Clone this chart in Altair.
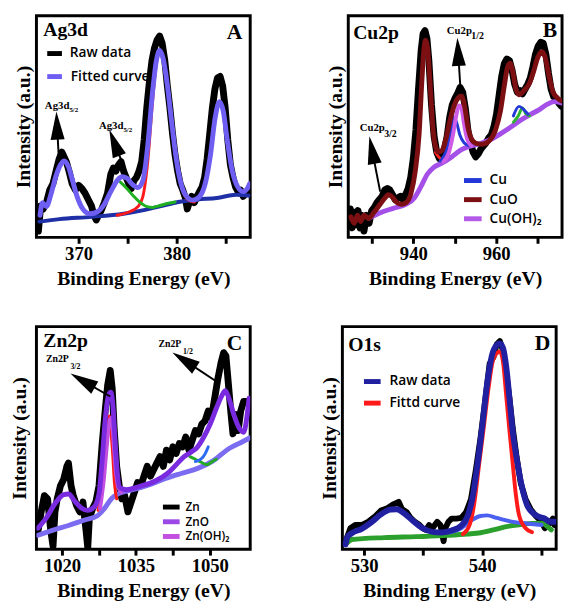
import altair as alt
import pandas as pd

SERIF = "Liberation Serif"
SANS = "Open Sans"
ARROW = "M0,-1L0.5,1L-0.5,1Z"

# ---------------- Panel A : Ag3d ----------------
A_RAW = [(365.90,20),(366.13,100),(366.39,90),(366.72,110),(367.05,150),(367.38,170),(367.70,210),(368.03,250),
         (368.30,270),(368.52,255),(368.75,240),(369.02,210),(369.34,170),(369.67,150),(370.00,165),(370.33,155),
         (370.66,140),(370.98,120),(371.31,100),(371.57,70),(371.80,55),(372.03,70),(372.30,85),(372.62,110),
         (372.95,140),(373.28,200),(373.54,220),(373.80,210),(374.07,230),(374.33,240),(374.59,210),(374.85,190),
         (375.11,170),(375.38,155),(375.64,180),(375.90,190),(376.16,210),(376.43,240),(376.69,310),(376.95,410),
         (377.21,490),(377.48,560),(377.74,600),(378.00,625),(378.26,638),(378.52,615),(378.79,560),(379.05,480),
         (379.31,410),(379.57,330),(379.84,260),(380.10,210),(380.36,170),(380.62,150),(380.89,125),(381.08,90),
         (381.28,110),(381.54,130),(381.80,110),(382.07,130),(382.33,145),(382.59,160),(382.85,190),(383.11,250),
         (383.38,330),(383.64,410),(383.90,470),(384.16,505),(384.43,510),(384.69,480),(384.95,410),(385.21,310),
         (385.48,230),(385.74,190),(386.00,160),(386.26,145),(386.52,150),(386.79,130),(387.05,140),(387.31,150)]
A_FIT = [(366.07,70),(366.30,110),(366.72,98),(367.21,140),(367.70,195),(368.20,232),(368.52,242),(368.95,225),
         (369.34,185),(369.84,130),(370.39,92),(371.15,75),(371.97,82),(372.62,105),(373.28,145),(373.93,180),
         (374.43,192),(374.92,188),(375.41,170),(376.07,158),(376.56,180),(377.05,290),(377.54,460),(377.93,560),
         (378.26,592),(378.59,570),(379.02,490),(379.51,360),(380.00,240),(380.49,165),(381.15,125),(381.64,118),
         (382.30,128),(382.95,175),(383.44,260),(383.93,380),(384.36,430),(384.75,400),(385.15,310),(385.67,210),
         (386.23,160),(386.79,145),(387.21,155),(387.44,170)]
A_BASE = [(366.00,50),(368.03,58),(371.31,65),(374.59,75),(376.89,88),(378.52,100),(380.16,112),(382.13,120),
          (384.10,125),(386.07,135),(387.44,132)]
A_RED = [(373.93,70),(375.25,82),(376.07,98),(376.56,130),(377.05,240),(377.54,430),(377.93,550),(378.26,585),
         (378.59,565),(379.02,485),(379.51,355),(380.00,240),(380.49,160),(381.15,120),(381.80,112)]
A_GREEN = [(374.26,175),(374.92,155),(375.57,132),(376.23,112),(376.89,98),(377.54,95),(378.20,100),(379.18,108),
           (379.84,112)]
A_TEXT = [(366.56,416,"Ag3d","5/2"),(372.07,353,"Ag3d","5/2")]
A_ARROWS = [(367.97,260,367.80,354,357.5),(374.62,224,373.64,300,339)]

# ---------------- Panel B : Cu2p ----------------
B_RAW = [(924.78,90),(925.25,30),(925.73,80),(926.20,40),(926.67,85),(927.14,30),(927.61,70),(928.08,20),
         (928.71,70),(929.33,45),(929.96,85),(930.59,95),(931.22,110),(931.84,120),(932.47,130),(933.10,150),
         (933.73,155),(934.35,150),(934.98,135),(935.61,120),(936.24,125),(936.86,130),(937.49,120),(938.12,135),
         (938.75,155),(939.37,190),(940.00,250),(940.63,340),(941.25,470),(941.88,590),(942.35,645),(942.82,655),
         (943.29,630),(943.76,560),(944.39,420),(945.02,320),(945.65,270),(946.27,250),(946.90,260),(947.53,280),
         (948.16,320),(948.78,380),(949.41,420),(950.04,440),(950.67,455),(951.29,475),(951.92,460),(952.55,410),
         (953.18,340),(953.80,300),(954.43,270),(955.06,255),(955.69,265),(956.31,280),(956.94,290),(957.57,300),
         (958.20,315),(958.82,325),(959.45,350),(960.08,390),(960.71,450),(961.33,510),(961.96,550),(962.59,565),
         (963.22,560),(963.84,530),(964.47,485),(965.10,460),(965.73,465),(966.35,455),(966.98,470),(967.61,485),
         (968.24,505),(968.86,540),(969.49,580),(970.12,605),(970.75,618),(971.37,615),(972.00,580),(972.63,520),
         (973.25,470),(973.88,445),(974.51,440),(975.14,425),(975.76,415)]
B_FIT = [(924.94,65),(925.73,45),(926.51,70),(927.29,50),(928.08,70),(929.25,60),(930.43,78),(932.00,105),
         (933.18,125),(933.96,135),(934.75,130),(935.92,112),(937.10,105),(938.27,110),(939.45,140),(940.47,210),
         (941.41,330),(942.04,490),(942.59,600),(942.98,625),(943.45,600),(944.08,480),(944.71,350),(945.33,290),
         (946.12,270),(946.90,275),(947.84,310),(948.86,370),(949.88,418),(950.82,442),(951.61,448),(952.39,415),
         (953.18,350),(954.12,310),(955.14,298),(956.71,295),(958.27,305),(959.84,340),(961.02,400),(961.96,480),
         (962.75,540),(963.37,552),(964.00,525),(964.78,470),(965.57,452),(966.67,465),(967.92,485),(969.02,525),
         (970.04,570),(971.06,588),(971.84,570),(972.78,510),(973.73,460),(974.75,442),(975.76,432)]
B_BG = [(929.25,60),(932.00,78),(935.14,92),(938.27,105),(940.24,125),(941.80,160),(943.37,200),(944.94,222),
        (946.90,235),(949.25,255),(951.61,278),(953.96,290),(956.31,298),(958.67,310),(961.02,328),(963.37,348),
        (965.73,370),(968.08,388),(970.43,405),(972.39,422),(973.96,430),(975.76,426)]
B_CU = [(946.51,242),(948.08,280),(949.10,340),(949.80,380),(950.43,365),(951.22,325),(952.24,300),(953.57,290)]
B_CU2 = [(964.16,385),(965.49,415),(966.67,405),(967.69,390)]
B_OH = [(947.29,240),(948.63,270),(949.65,330),(950.43,390),(951.06,418),(951.61,410),(952.24,360),(953.02,310),
        (953.96,290)]
B_GREEN = [(964.16,365),(965.33,385),(966.35,410),(967.14,392),(968.08,385)]
B_RED = [(945.33,270),(946.12,255),(947.06,245)]
B_TEXT = [(927.06,345,"Cu2p","3/2"),(948.08,655,"Cu2p","1/2")]
B_ARROWS = [(932.00,145,930.04,277,349),(951.45,455,950.82,588,357)]

# ---------------- Panel C : Zn2p ----------------
C_RAW = [(1015.11,55),(1015.76,115),(1016.41,165),(1017.06,155),(1017.72,55),(1018.17,10),(1018.56,115),
         (1019.02,155),(1019.67,195),(1020.33,215),(1020.98,255),(1021.30,265),(1021.83,195),(1022.28,165),
         (1022.94,135),(1023.59,115),(1024.24,145),(1024.89,55),(1025.22,5),(1025.54,95),(1026.20,125),
         (1026.85,145),(1027.50,195),(1028.15,325),(1028.81,435),(1029.26,505),(1029.78,550),(1030.18,495),
         (1030.57,375),(1031.09,255),(1031.61,195),(1032.13,155),(1032.72,165),(1033.37,115),(1034.02,145),
         (1034.68,175),(1035.33,205),(1035.98,195),(1036.63,225),(1037.29,255),(1037.94,225),(1038.59,245),
         (1039.24,265),(1039.90,285),(1040.55,255),(1041.20,305),(1041.85,275),(1042.50,315),(1043.16,295),
         (1043.81,325),(1044.46,315),(1045.11,345),(1045.77,305),(1046.42,335),(1047.07,365),(1047.72,355),
         (1048.38,385),(1049.03,395),(1049.68,425),(1050.33,405),(1050.99,465),(1051.64,525),(1052.29,575),
         (1052.81,605),(1053.27,595),(1053.79,505),(1054.25,425),(1054.70,355),(1055.23,415),(1055.75,365),
         (1056.27,425),(1056.86,455),(1057.51,455)]
C_FIT = [(1015.11,65),(1016.74,95),(1018.70,143),(1020.33,168),(1021.30,170),(1022.61,147),(1023.91,127),
         (1025.22,120),(1026.52,130),(1027.50,170),(1028.15,275),(1028.81,405),(1029.46,475),(1029.92,483),
         (1030.31,445),(1030.76,335),(1031.22,235),(1031.74,190),(1033.05,183),(1035.66,193),(1038.92,210),
         (1041.53,235),(1043.48,265),(1044.79,285),(1046.09,298),(1047.40,313),(1048.70,343),(1050.01,383),
         (1051.31,433),(1052.29,468),(1053.14,488),(1053.92,463),(1054.90,413),(1055.88,375),(1056.86,360),
         (1057.51,405),(1057.97,465)]
C_BASE = [(1015.11,43),(1018.04,58),(1021.30,73),(1024.57,90),(1027.18,103),(1028.48,123),(1030.11,157),
          (1031.74,173),(1034.35,183),(1037.61,198),(1040.87,217),(1044.14,233),(1047.40,248),(1050.66,272),
          (1053.92,310),(1056.53,330),(1058.16,343)]
C_RED = [(1027.31,120),(1028.15,195),(1028.81,285),(1029.26,365),(1029.59,410),(1029.92,365),(1030.31,285),
         (1030.63,205),(1031.09,155)]
C_OH = [(1027.70,125),(1028.48,215),(1029.13,325),(1029.65,395),(1030.05,405),(1030.44,335),(1030.89,245),
        (1031.41,190),(1032.07,175)]
C_GREEN = [(1045.96,285),(1047.07,277),(1048.38,267),(1049.35,260),(1050.53,270),(1051.31,277)]
C_BLUE = [(1047.07,270),(1048.18,277),(1049.03,293),(1049.68,315)]
C_TEXT = [(1016.72,584,"Zn2P","3/2"),(1039.57,630,"Zn2P","1/2")]
C_ARROWS = [(1029.78,470,1024.17,519,300),(1051.96,510,1044.79,582,303)]

# ---------------- Panel D : O1s ----------------
D_RAW = [(528.42,25),(528.83,65),(529.24,75),(529.78,75),(530.33,85),(530.87,100),(531.42,120),(531.96,127),
         (532.51,140),(532.92,147),(533.19,125),(533.60,115),(533.87,100),(534.28,85),(534.69,75),(534.96,65),
         (535.23,60),(535.50,75),(535.78,65),(536.19,85),(536.46,75),(536.73,25),(536.87,65),(537.14,85),
         (537.41,95),(537.82,95),(538.23,97),(538.64,115),(539.05,155),(539.46,245),(539.86,345),(540.27,465),
         (540.63,575),(540.95,595),(541.23,635),(541.50,645),(541.77,615),(542.04,545),(542.32,465),(542.59,375),
         (542.92,285),(543.27,205),(543.68,155),(544.09,125),(544.50,105),(545.04,85),(545.31,65),(545.59,75),
         (546.00,95),(546.13,75)]
D_FIT = [(528.42,15),(528.56,37),(528.96,50),(529.78,63),(530.60,83),(531.42,108),(532.23,123),(532.78,124),
         (533.32,113),(534.14,88),(534.96,65),(535.78,54),(536.59,52),(537.41,58),(538.23,73),(538.77,103),
         (539.18,160),(539.59,260),(540.00,380),(540.41,510),(540.82,600),(541.23,633),(541.50,638),(541.77,623),
         (542.04,565),(542.32,465),(542.59,365),(543.00,265),(543.41,187),(543.81,137),(544.22,115),(544.77,101),
         (545.31,95),(545.72,85),(546.13,85)]
D_RED = [(538.37,47),(538.91,73),(539.32,140),(539.73,260),(540.14,380),(540.54,500),(540.95,590),(541.50,613),
         (541.77,580),(542.04,475),(542.32,365),(542.59,265),(542.86,167),(543.13,105),(543.68,65),(544.22,53)]
D_COMP = [(537.14,52),(538.23,65),(539.05,89),(539.86,103),(540.41,105),(541.23,97),(542.59,85),(543.95,79),
          (545.04,75)]
D_BASE = [(528.56,20),(528.96,30),(531.69,36),(534.41,39),(537.14,43),(538.77,47),(539.86,51),(540.95,60),
          (542.04,70),(543.13,76),(544.22,80),(545.04,81),(545.45,73),(545.86,60)]

W = 218
H1, H2 = 226, 227


def sdf(name, pts):
    return pd.DataFrame({"E": [p[0] for p in pts], "I": [p[1] for p in pts], "S": name})


def panel(cfg, h):
    xs = alt.Scale(domain=cfg["xdom"], nice=False, zero=False)
    ys = alt.Scale(domain=[0, cfg["ytop"]], nice=False, zero=False)
    xa = alt.Axis(title="Binding Energy (eV)", values=cfg["ticks"], format="d",
                  labelExpr=cfg["lexpr"], labelFlush=False, domain=False, grid=False,
                  labelFont=SERIF, labelFontSize=19, labelFontWeight="bold", labelColor="black",
                  titleFont=SERIF, titleFontSize=20, titleFontWeight="bold", titleColor="black",
                  tickColor="black", tickWidth=3, tickSize=6, labelPadding=2, titlePadding=5)
    ya = alt.Axis(title="Intensity (a.u.)", labels=False, ticks=False, domain=False, grid=False,
                  titleFont=SERIF, titleFontSize=20, titleFontWeight="bold", titleColor="black",
                  titlePadding=cfg["ytp"])
    names = [s[0] for s in cfg["series"]]
    cols = [s[2] for s in cfg["series"]]
    color_scale = alt.Scale(domain=names, range=cols)
    layers = []
    for name, pts, col, sw, interp in cfg["series"]:
        layers.append(
            alt.Chart(sdf(name, pts)).mark_line(
                strokeWidth=sw, interpolate=interp, clip=True,
                strokeCap="round", strokeJoin="round").encode(
                x=alt.X("E:Q", scale=xs, axis=xa),
                y=alt.Y("I:Q", scale=ys, axis=ya),
                color=alt.Color("S:N", scale=color_scale, legend=None),
            )
        )
    if cfg.get("arrows"):
        arr = pd.DataFrame(cfg["arrows"], columns=["E", "I", "E2", "I2", "ang"])
        layers.append(alt.Chart(arr).mark_rule(strokeWidth=2, color="black").encode(
            x=alt.X("E:Q", scale=xs, axis=xa), y=alt.Y("I:Q", scale=ys, axis=ya),
            x2="E2:Q", y2="I2:Q"))
        layers.append(alt.Chart(arr).mark_point(
            shape=ARROW, filled=True, size=820, color="black", opacity=1).encode(
            x=alt.X("E2:Q", scale=xs, axis=xa), y=alt.Y("I2:Q", scale=ys, axis=ya),
            angle=alt.Angle("ang:Q", scale=None)))
    if cfg.get("text"):
        tx = pd.DataFrame(cfg["text"], columns=["E", "I", "main", "sub"])
        layers.append(alt.Chart(tx).mark_text(
            align="left", baseline="middle", font=SERIF, fontWeight="bold",
            fontSize=cfg["mainsize"], color="black").encode(
            x=alt.X("E:Q", scale=xs, axis=xa), y=alt.Y("I:Q", scale=ys, axis=ya),
            text="main:N"))
        layers.append(alt.Chart(tx).mark_text(
            align="left", baseline="middle", font=SERIF, fontWeight="bold",
            fontSize=cfg["subsize"], dx=cfg["subdx"], dy=cfg["subdy"], color="black").encode(
            x=alt.X("E:Q", scale=xs, axis=xa), y=alt.Y("I:Q", scale=ys, axis=ya),
            text="sub:N"))
    # legend entries: label, colour, line start, line end, row y, text x
    for lab, col, x0, x1, yy, xt in cfg["legend"]:
        d = pd.DataFrame({"t": [lab]})
        layers.append(alt.Chart(d).mark_rule(color=col, strokeWidth=5).encode(
            x=alt.value(x0), x2=alt.value(x1), y=alt.value(yy)))
        layers.append(alt.Chart(d).mark_text(
            align="left", baseline="middle", font=SANS, fontSize=cfg["lfs"], fontWeight=600,
            color="black").encode(x=alt.value(xt), y=alt.value(yy), text="t:N"))
    tg = cfg["tag"]
    layers.append(alt.Chart(pd.DataFrame({"t": [tg[0]]})).mark_text(
        align="left", baseline="middle", font=SERIF, fontWeight="bold", fontSize=20,
        color="black").encode(x=alt.value(tg[1]), y=alt.value(tg[2]), text="t:N"))
    lt = cfg["letter"]
    layers.append(alt.Chart(pd.DataFrame({"t": [lt[0]]})).mark_text(
        align="right", baseline="middle", font=SERIF, fontWeight="bold", fontSize=22,
        color="black").encode(x=alt.value(W - lt[1]), y=alt.value(lt[2]), text="t:N"))
    return alt.layer(*layers).properties(width=W, height=h)


PA = dict(
    xdom=[365.7, 387.5], ytop=702, ticks=[370, 375, 380, 385],
    lexpr="datum.value % 10 == 0 ? datum.label : ''", ytp=3,
    series=[("raw", A_RAW, "#000000", 7, "linear"),
            ("base", A_BASE, "#1f2fa5", 4, "monotone"),
            ("red", A_RED, "#ff1a1a", 3, "monotone"),
            ("green", A_GREEN, "#1eb01e", 3, "monotone"),
            ("fit", A_FIT, "#6e5ef2", 5, "monotone")],
    legend=[("Raw data", "#000000", 11, 26, 38.5, 34),
            ("Fitted curve", "#6e5ef2", 11, 26, 62, 35)],
    lfs=14, arrows=A_ARROWS, text=A_TEXT, mainsize=11, subsize=7, subdx=25, subdy=4,
    tag=("Ag3d", 7, 15), letter=("A", 8, 17),
)
PB = dict(
    xdom=[924.3, 975.9], ytop=702, ticks=[930, 940, 950, 960, 970],
    lexpr="datum.value % 20 == 0 ? datum.label : ''", ytp=3,
    series=[("raw", B_RAW, "#000000", 7, "linear"),
            ("bg", B_BG, "#a450e8", 5, "monotone"),
            ("red", B_RED, "#ff2020", 3, "monotone"),
            ("green", B_GREEN, "#2db52d", 3, "monotone"),
            ("cu", B_CU, "#2438d8", 3, "monotone"),
            ("cu2", B_CU2, "#2438d8", 3, "monotone"),
            ("oh", B_OH, "#cf5ce6", 4, "monotone"),
            ("fit", B_FIT, "#7b0f12", 5, "monotone")],
    legend=[("Cu", "#2438d8", 118, 136, 168, 144),
            ("CuO", "#7b0f12", 118, 136, 187.5, 144),
            ("Cu(OH)₂", "#b45ae8", 118, 136, 207, 144)],
    lfs=14, arrows=B_ARROWS, text=B_TEXT, mainsize=11, subsize=10, subdx=25, subdy=6,
    tag=("Cu2p", 5, 18), letter=("B", 5, 15),
)
PC = dict(
    xdom=[1014.8, 1058.2], ytop=685, ticks=[1020, 1027.5, 1035, 1042.5, 1050],
    lexpr="datum.value % 15 == 0 ? datum.label : ''", ytp=7,
    series=[("raw", C_RAW, "#000000", 7, "linear"),
            ("base", C_BASE, "#7c6cf2", 5, "monotone"),
            ("green", C_GREEN, "#22aa22", 3, "monotone"),
            ("blue", C_BLUE, "#2d6cf0", 3, "monotone"),
            ("red", C_RED, "#ff1a1a", 3, "monotone"),
            ("oh", C_OH, "#c24fe0", 4, "monotone"),
            ("fit", C_FIT, "#7a2be0", 5, "monotone")],
    legend=[("Zn", "#000000", 129, 146, 184, 152),
            ("ZnO", "#9b48e6", 129, 146, 199, 152),
            ("Zn(OH)₂", "#c24fe0", 129, 146, 214, 152)],
    lfs=12, arrows=C_ARROWS, text=C_TEXT, mainsize=10, subsize=8, subdx=25, subdy=8,
    tag=("Zn2p", 7, 15), letter=("C", 8, 17),
)
PD = dict(
    xdom=[528.15, 546.27], ytop=690, ticks=[530, 535, 540, 545],
    lexpr="datum.value % 10 == 0 ? datum.label : ''", ytp=3,
    series=[("raw", D_RAW, "#000000", 6, "linear"),
            ("base", D_BASE, "#2ca02c", 5, "monotone"),
            ("comp", D_COMP, "#4b5ff0", 4, "monotone"),
            ("red", D_RED, "#ff1a1a", 4, "monotone"),
            ("fit", D_FIT, "#2020a0", 6, "monotone")],
    legend=[("Raw data", "#2020a0", 22, 39, 56, 48),
            ("Fittd curve", "#ff1a1a", 22, 39, 78, 48)],
    lfs=14,
    tag=("O1s", 6, 19), letter=("D", 6, 17),
)

row1 = alt.hconcat(panel(PA, H1), panel(PB, H1), spacing=73).resolve_scale(
    color="independent", x="independent", y="independent")
row2 = alt.hconcat(panel(PC, H2), panel(PD, H2), spacing=67).resolve_scale(
    color="independent", x="independent", y="independent")

chart = alt.vconcat(row1, row2, spacing=35).resolve_scale(
    color="independent", x="independent", y="independent").properties(
    padding=0, background="white").configure_view(stroke="black", strokeWidth=3)

chart.save("out.html", embed_options={"renderer": "svg", "actions": False})
